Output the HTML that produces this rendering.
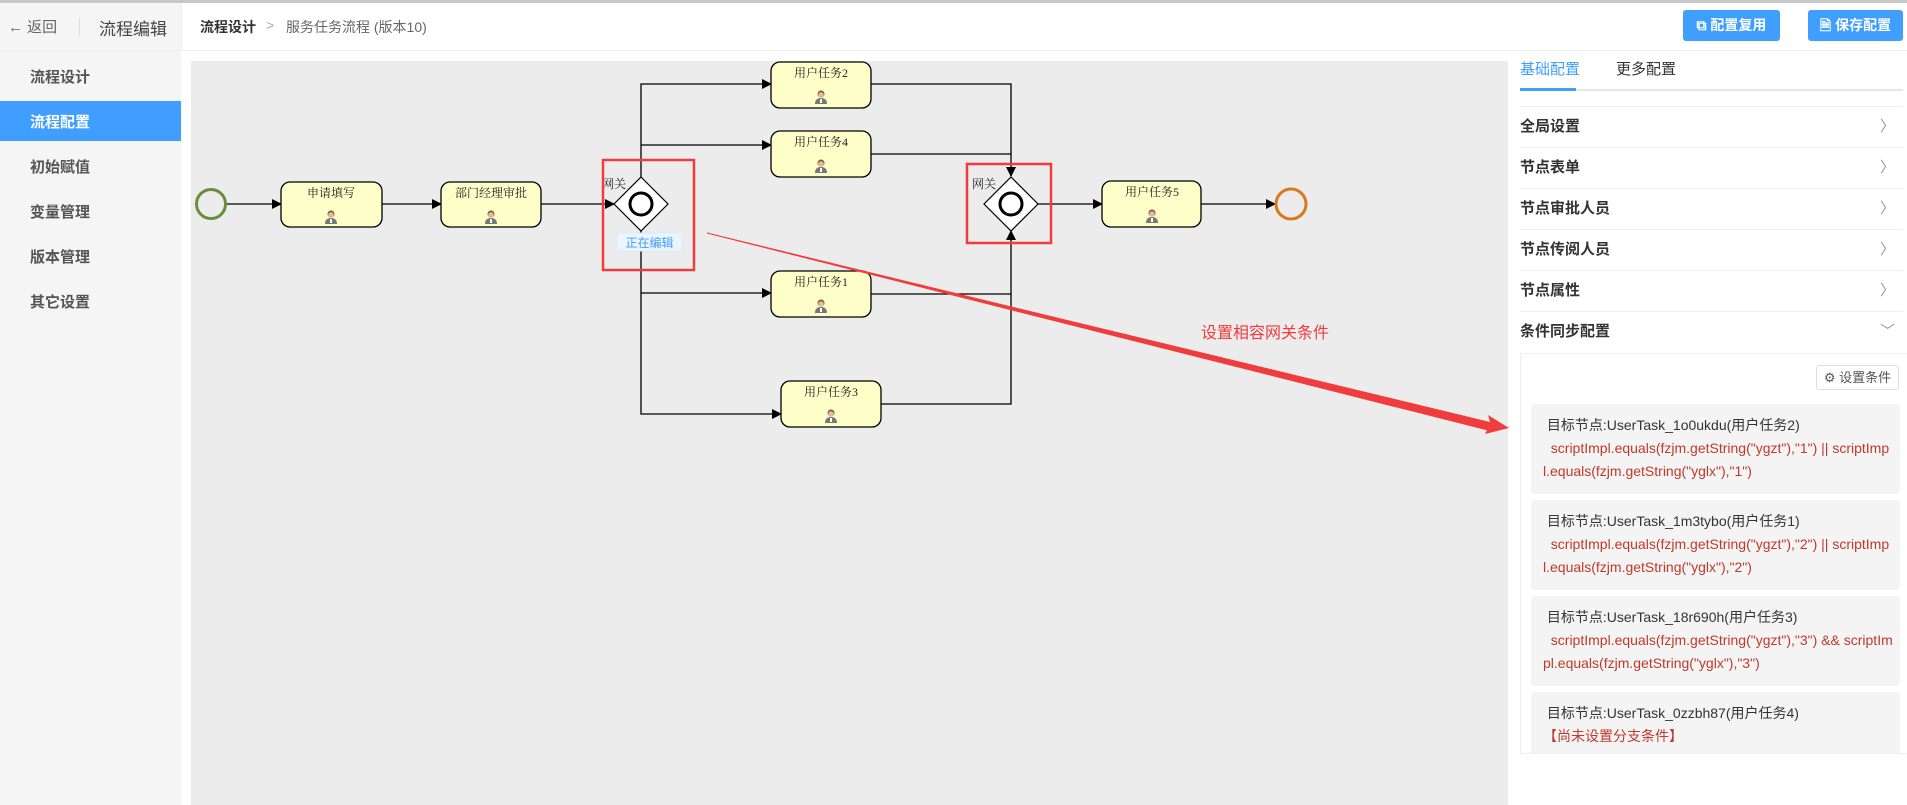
<!DOCTYPE html>
<html><head><meta charset="utf-8"><style>
*{margin:0;padding:0;box-sizing:border-box}
body{width:1907px;height:805px;overflow:hidden;background:#fff;font-family:"Liberation Sans","Noto Sans CJK SC",sans-serif;position:relative;color:#333}
.a{position:absolute;white-space:nowrap}
.side{left:0;top:51px;width:181px;height:754px;background:#f5f5f5}
.si{position:absolute;left:30px;font-size:15px;font-weight:bold;color:#555}
.btn{position:absolute;top:10px;height:31px;background:#409eff;color:#fff;border-radius:3px;font-size:14px;font-weight:bold;text-align:center;line-height:31px}
.row{position:absolute;left:1520px;width:383px;height:41px;border-bottom:1px solid #ebeef5;font-size:15px;font-weight:bold;color:#333;line-height:40px}
.row span{position:absolute;right:8px;top:0;color:#999;font-weight:normal}
.card{position:absolute;left:1531px;width:369px;background:#f4f4f4;border-radius:4px;font-size:14px;line-height:23px;padding:10px 4px 0 12px;word-break:break-all;white-space:normal}
.card b{font-weight:normal;color:#333}
.card .r{color:#c0392b}
</style></head><body>
<div class="a" style="left:0;top:0;width:1907px;height:3px;background:#c8c8c8"></div>
<div class="a" style="left:0;top:3px;width:181px;height:48px;background:#f5f5f5"></div>
<div class="a" style="left:8px;top:16px;font-size:15px;color:#666">← 返回</div>
<div class="a" style="left:79px;top:18px;width:1px;height:18px;background:#ddd"></div>
<div class="a" style="left:99px;top:15px;font-size:17px;color:#444">流程编辑</div>
<div class="a" style="left:181px;top:3px;width:1px;height:48px;background:#eee"></div>
<div class="a" style="left:200px;top:17px;font-size:14px;font-weight:bold;color:#333">流程设计</div>
<div class="a" style="left:266px;top:17px;font-size:14px;color:#aaa">&gt;</div>
<div class="a" style="left:286px;top:17px;font-size:14px;color:#666">服务任务流程 (版本10)</div>
<div class="a" style="left:0;top:50px;width:1907px;height:1px;background:#eee"></div>
<div class="btn" style="left:1683px;width:97px">⧉ 配置复用</div>
<div class="btn" style="left:1808px;width:95px">🗎 保存配置</div>
<div class="a side"></div>
<div class="si" style="top:66px">流程设计</div>
<div class="a" style="left:0;top:101px;width:181px;height:40px;background:#409eff"></div>
<div class="si" style="top:111px;color:#fff">流程配置</div>
<div class="si" style="top:156px">初始赋值</div>
<div class="si" style="top:201px">变量管理</div>
<div class="si" style="top:246px">版本管理</div>
<div class="si" style="top:291px">其它设置</div>
<div class="a" style="left:191px;top:61px;width:1317px;height:744px;background:#ececec"></div>

<svg class="a" style="left:0;top:0" width="1907" height="805">
<defs>
<marker id="ar" markerWidth="10" markerHeight="10" refX="9" refY="5" orient="auto" markerUnits="userSpaceOnUse"><path d="M0,0L10,5L0,10z" fill="#000"/></marker>
<g id="p"><circle cx="0" cy="-6" r="3.5" fill="#7a5a40"/><circle cx="0" cy="-5" r="2.8" fill="#e9b896"/><path d="M-6,4 Q-6,-2 0,-2 Q6,-2 6,4z" fill="#777"/><rect x="-1" y="-1" width="2" height="4" fill="#fff"/></g>
</defs>
<g fill="none" stroke="#000" stroke-width="1.3">
<line x1="226" y1="204" x2="281" y2="204" marker-end="url(#ar)"/>
<line x1="382" y1="204" x2="441" y2="204" marker-end="url(#ar)"/>
<line x1="541" y1="204" x2="614" y2="204" marker-end="url(#ar)"/>
<polyline points="641,177 641,84 771,84" marker-end="url(#ar)"/>
<line x1="641" y1="145" x2="771" y2="145" marker-end="url(#ar)"/>
<polyline points="641,231 641,414 781,414" marker-end="url(#ar)"/>
<line x1="641" y1="293" x2="771" y2="293" marker-end="url(#ar)"/>
<polyline points="871,84 1011,84 1011,176" marker-end="url(#ar)"/>
<line x1="871" y1="154" x2="1011" y2="154"/>
<line x1="871" y1="294" x2="1011" y2="294"/>
<polyline points="881,404 1011,404 1011,231" marker-end="url(#ar)"/>
<line x1="1038" y1="204" x2="1102" y2="204" marker-end="url(#ar)"/>
<line x1="1201" y1="204" x2="1275" y2="204" marker-end="url(#ar)"/>
</g>
<circle cx="211" cy="204" r="14.5" fill="none" stroke="#6a8f3c" stroke-width="3"/>
<circle cx="1291" cy="204" r="15" fill="none" stroke="#d97a1a" stroke-width="3"/>
<g fill="#fefec8" stroke="#000" stroke-width="1.3">
<rect x="281" y="182" width="101" height="45" rx="9"/>
<rect x="441" y="182" width="100" height="45" rx="9"/>
<rect x="771" y="62" width="100" height="46" rx="9"/>
<rect x="771" y="131" width="100" height="46" rx="9"/>
<rect x="771" y="271" width="100" height="46" rx="9"/>
<rect x="781" y="381" width="100" height="46" rx="9"/>
<rect x="1102" y="181" width="99" height="46" rx="9"/>
</g>
<g font-family="Liberation Serif,Noto Serif CJK SC,serif" font-size="12" fill="#222" text-anchor="middle">
<text x="331" y="197">申请填写</text><text x="491" y="197">部门经理审批</text>
<text x="821" y="77">用户任务2</text><text x="821" y="146">用户任务4</text>
<text x="821" y="286">用户任务1</text><text x="831" y="396">用户任务3</text>
<text x="1152" y="196">用户任务5</text>
<text x="614" y="188">网关</text><text x="984" y="188">网关</text>
</g>
<use href="#p" x="331" y="220"/><use href="#p" x="491" y="220"/><use href="#p" x="821" y="100"/><use href="#p" x="821" y="169"/><use href="#p" x="821" y="309"/><use href="#p" x="831" y="419"/><use href="#p" x="1152" y="219"/>
<g fill="#fff" stroke="#000" stroke-width="1.2">
<path d="M641,177L668,204L641,231L614,204z"/><path d="M1011,177L1038,204L1011,231L984,204z"/>
</g>
<circle cx="641" cy="204" r="11" fill="none" stroke="#000" stroke-width="3"/>
<circle cx="1011" cy="204" r="11" fill="none" stroke="#000" stroke-width="3"/>
<rect x="617" y="233" width="65" height="18" rx="2" fill="#ecf5ff" stroke="#d9ecff"/>
<text x="649.5" y="247" font-size="12" fill="#409eff" text-anchor="middle" font-family="Liberation Sans,Noto Sans CJK SC,sans-serif">正在编辑</text>
<rect x="603" y="160" width="91" height="110" fill="none" stroke="#f03c3c" stroke-width="2.5"/>
<rect x="967" y="164" width="84" height="79" fill="none" stroke="#f03c3c" stroke-width="2.5"/>
<path d="M707,233 L1490,422 L1488,415 L1509,428 L1485,434 L1488,428 L1490,428 Z" fill="#f03c3c"/>
<path d="M707,233 L1490,424 L1488,430 Z" fill="#f03c3c" stroke="#f03c3c" stroke-width="1"/>
<text x="1201" y="338" font-size="16" fill="#f03c3c" font-family="Liberation Sans,Noto Sans CJK SC,sans-serif">设置相容网关条件</text>
</svg>

<div class="a" style="left:1520px;top:58px;font-size:15px;color:#409eff">基础配置</div>
<div class="a" style="left:1616px;top:58px;font-size:15px;color:#333">更多配置</div>
<div class="a" style="left:1520px;top:89px;width:383px;height:2px;background:#e4e7ed"></div>
<div class="a" style="left:1520px;top:88px;width:56px;height:3px;background:#409eff"></div>
<div class="a" style="left:1520px;top:106px;width:383px;height:1px;background:#ebeef5"></div>
<div class="row" style="top:107px">全局设置<span>〉</span></div>
<div class="row" style="top:148px">节点表单<span>〉</span></div>
<div class="row" style="top:189px">节点审批人员<span>〉</span></div>
<div class="row" style="top:230px">节点传阅人员<span>〉</span></div>
<div class="row" style="top:271px">节点属性<span>〉</span></div>
<div class="row" style="top:312px;border:none">条件同步配置<span>﹀</span></div>
<div class="a" style="left:1520px;top:353px;width:387px;height:401px;border:1px solid #ebeef5;border-right:none"></div>
<div class="a" style="left:1816px;top:365px;width:83px;height:25px;border:1px solid #dcdfe6;border-radius:3px;font-size:13px;color:#555;line-height:23px;text-align:center">⚙ 设置条件</div>
<div class="card" style="top:404px;height:90px"><b>&nbsp;目标节点:UserTask_1o0ukdu(用户任务2)</b><br><span class="r">&nbsp;&nbsp;scriptImpl.equals(fzjm.getString("ygzt"),"1") || scriptImpl.equals(fzjm.getString("yglx"),"1")</span></div>
<div class="card" style="top:500px;height:90px"><b>&nbsp;目标节点:UserTask_1m3tybo(用户任务1)</b><br><span class="r">&nbsp;&nbsp;scriptImpl.equals(fzjm.getString("ygzt"),"2") || scriptImpl.equals(fzjm.getString("yglx"),"2")</span></div>
<div class="card" style="top:596px;height:90px"><b>&nbsp;目标节点:UserTask_18r690h(用户任务3)</b><br><span class="r">&nbsp;&nbsp;scriptImpl.equals(fzjm.getString("ygzt"),"3") &amp;&amp; scriptImpl.equals(fzjm.getString("yglx"),"3")</span></div>
<div class="card" style="top:692px;height:61px;border-radius:4px 4px 0 0"><b>&nbsp;目标节点:UserTask_0zzbh87(用户任务4)</b><br><span class="r">【尚未设置分支条件】</span></div>
</body></html>
